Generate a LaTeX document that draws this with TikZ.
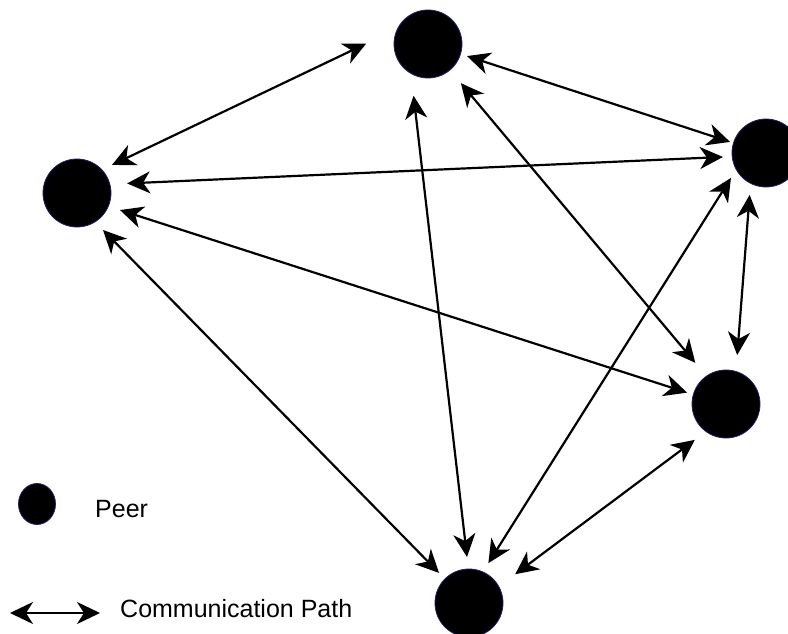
\documentclass[tikz,border=0pt]{standalone}
\usepackage{fontspec}
\setmainfont{Liberation Sans}
\usetikzlibrary{arrows.meta,shapes.geometric}
\definecolor{peerrim}{RGB}{30,30,110}
\begin{document}
\begin{tikzpicture}[x=1pt,y=-1pt,
  peer/.style={circle, fill=black, draw=peerrim, line width=0.8pt,
    minimum size=68pt, inner sep=0pt, outer sep=0pt},
  keydot/.style={ellipse, fill=black, draw=peerrim, line width=0.8pt,
    minimum width=37pt, minimum height=41pt, inner sep=0pt},
  tip/.tip={Stealth[length=23pt,width=22pt,inset=7pt]},
  link/.style={tip-tip, line width=2.2pt},
  keytext/.style={anchor=base west, inner sep=0pt,
    font=\fontsize{25}{30}\selectfont}
]
\useasboundingbox (0,0) rectangle (788,634);

% peers
\node[peer] (T) at (428,44)  {};
\node[peer] (R) at (766,153) {};
\node[peer] (L) at (77,193)  {};
\node[peer] (B) at (726,404) {};
\node[peer] (M) at (469,603) {};

% communication paths
\draw[link, shorten <=34.9pt, shorten >=11.2pt] (T.153.8) -- (L.43);
\draw[link, shorten <=6.8pt,  shorten >=3.6pt]  (T.343.1) -- (R.163.1);
\draw[link, shorten <=17.1pt, shorten >=17.4pt] (T.310.3) -- (B.125.7);
\draw[link, shorten <=22.5pt, shorten >=12.1pt] (T.240.8) -- (M.91);
\draw[link, shorten <=17.3pt, shorten >=9.2pt]  (L.15.8)  -- (R.186.1);
\draw[link, shorten <=12.3pt, shorten >=6.5pt]  (L.337.1) -- (B.164.7);
\draw[link, shorten <=11.4pt, shorten >=8.4pt]  (L.302)   -- (M.135.1);
\draw[link, shorten <=10pt,   shorten >=10.4pt] (R.209.2) -- (M.66.6);
\draw[link, shorten <=11.6pt, shorten >=16.5pt] (R.243.7) -- (B.73.4);
\draw[link, shorten <=14pt,   shorten >=20.5pt] (B.234.4) -- (M.29.6);

% legend
\node[keydot] (keypeer) at (37,504) {};
\node[keytext] (peerlabel) at (95,517) {Peer};
\coordinate (keyl) at (10,613);
\coordinate (keyr) at (100,613);
\draw[link] (keyl) -- (keyr);
\node[keytext] (pathlabel) at (120,617) {Communication Path};
\end{tikzpicture}
\end{document}
